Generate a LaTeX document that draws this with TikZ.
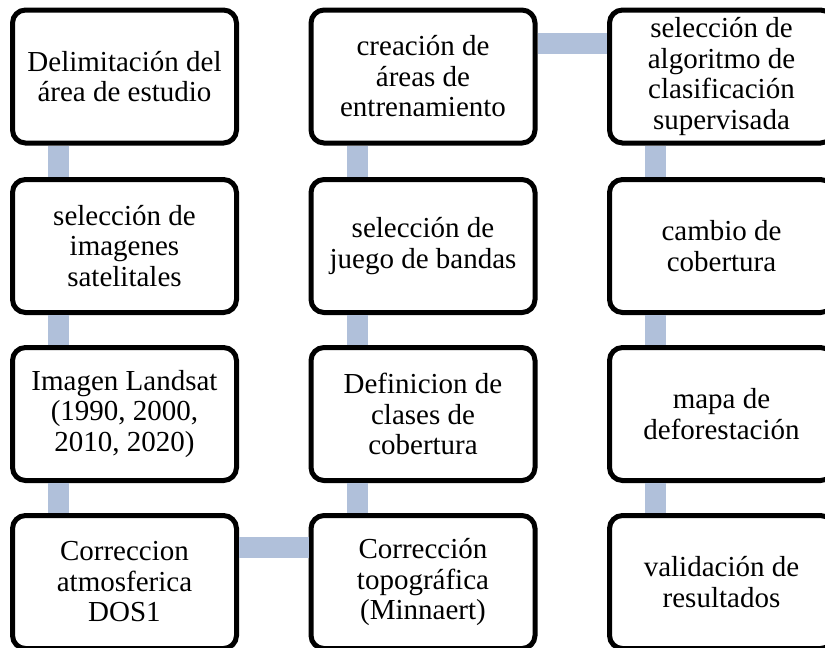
\documentclass[tikz,border=0pt]{standalone}
\usepackage{fontspec}
\setmainfont{Liberation Serif}
\definecolor{connblue}{RGB}{176,192,218}
\begin{document}
\begin{tikzpicture}[x=1pt,y=1pt,
  stepbox/.style={draw=black, line width=5pt, fill=white, rounded corners=13pt,
    minimum width=224pt, minimum height=133pt, inner sep=0pt, align=center,
    font=\fontsize{29}{30.5}\selectfont},
  conn/.style={draw=connblue, line width=21pt}]
\useasboundingbox (0,0) rectangle (825,-648);
\begin{scope}
\clip (0,0) rectangle (825,-648);
% column 1
\node[stepbox] (a1) at (124.5,-76.5) {Delimitación del\\área de estudio};
\node[stepbox] (a2) at (124.5,-246) {selección de\\imagenes\\satelitales};
\node[stepbox] (a3) at (124.5,-414) {Imagen Landsat\\(1990, 2000,\\2010, 2020)};
\node[stepbox] (a4) at (124.5,-582) {Correccion\\atmosferica\\DOS1};
% column 2
\node[stepbox] (b4) at (423,-582) {Corrección\\topográfica\\(Minnaert)};
\node[stepbox] (b3) at (423,-414) {Definicion de\\clases de\\cobertura};
\node[stepbox] (b2) at (423,-246) {selección de\\juego de bandas};
\node[stepbox] (b1) at (423,-76.5) {creación de\\áreas de\\entrenamiento};
% column 3
\node[stepbox] (c1) at (721.5,-76.5) {selección de\\algoritmo de\\clasificación\\supervisada};
\node[stepbox] (c2) at (721.5,-246) {cambio de\\cobertura};
\node[stepbox] (c3) at (721.5,-414) {mapa de\\deforestación};
\node[stepbox] (c4) at (721.5,-582) {validación de\\resultados};
% connectors
\foreach \u/\v in {a1/a2,a2/a3,a3/a4,b1/b2,b2/b3,b3/b4,c1/c2,c2/c3,c3/c4}{
  \draw[conn] ([xshift=-66pt]\u.south) -- ([xshift=-66pt]\v.north);
}
\draw[conn] ([yshift=-34pt]a4.north east) -- ([yshift=-34pt]b4.north west);
\draw[conn] ([yshift=-35.5pt]b1.north east) -- ([yshift=-35.5pt]c1.north west);
\end{scope}
\end{tikzpicture}
\end{document}
